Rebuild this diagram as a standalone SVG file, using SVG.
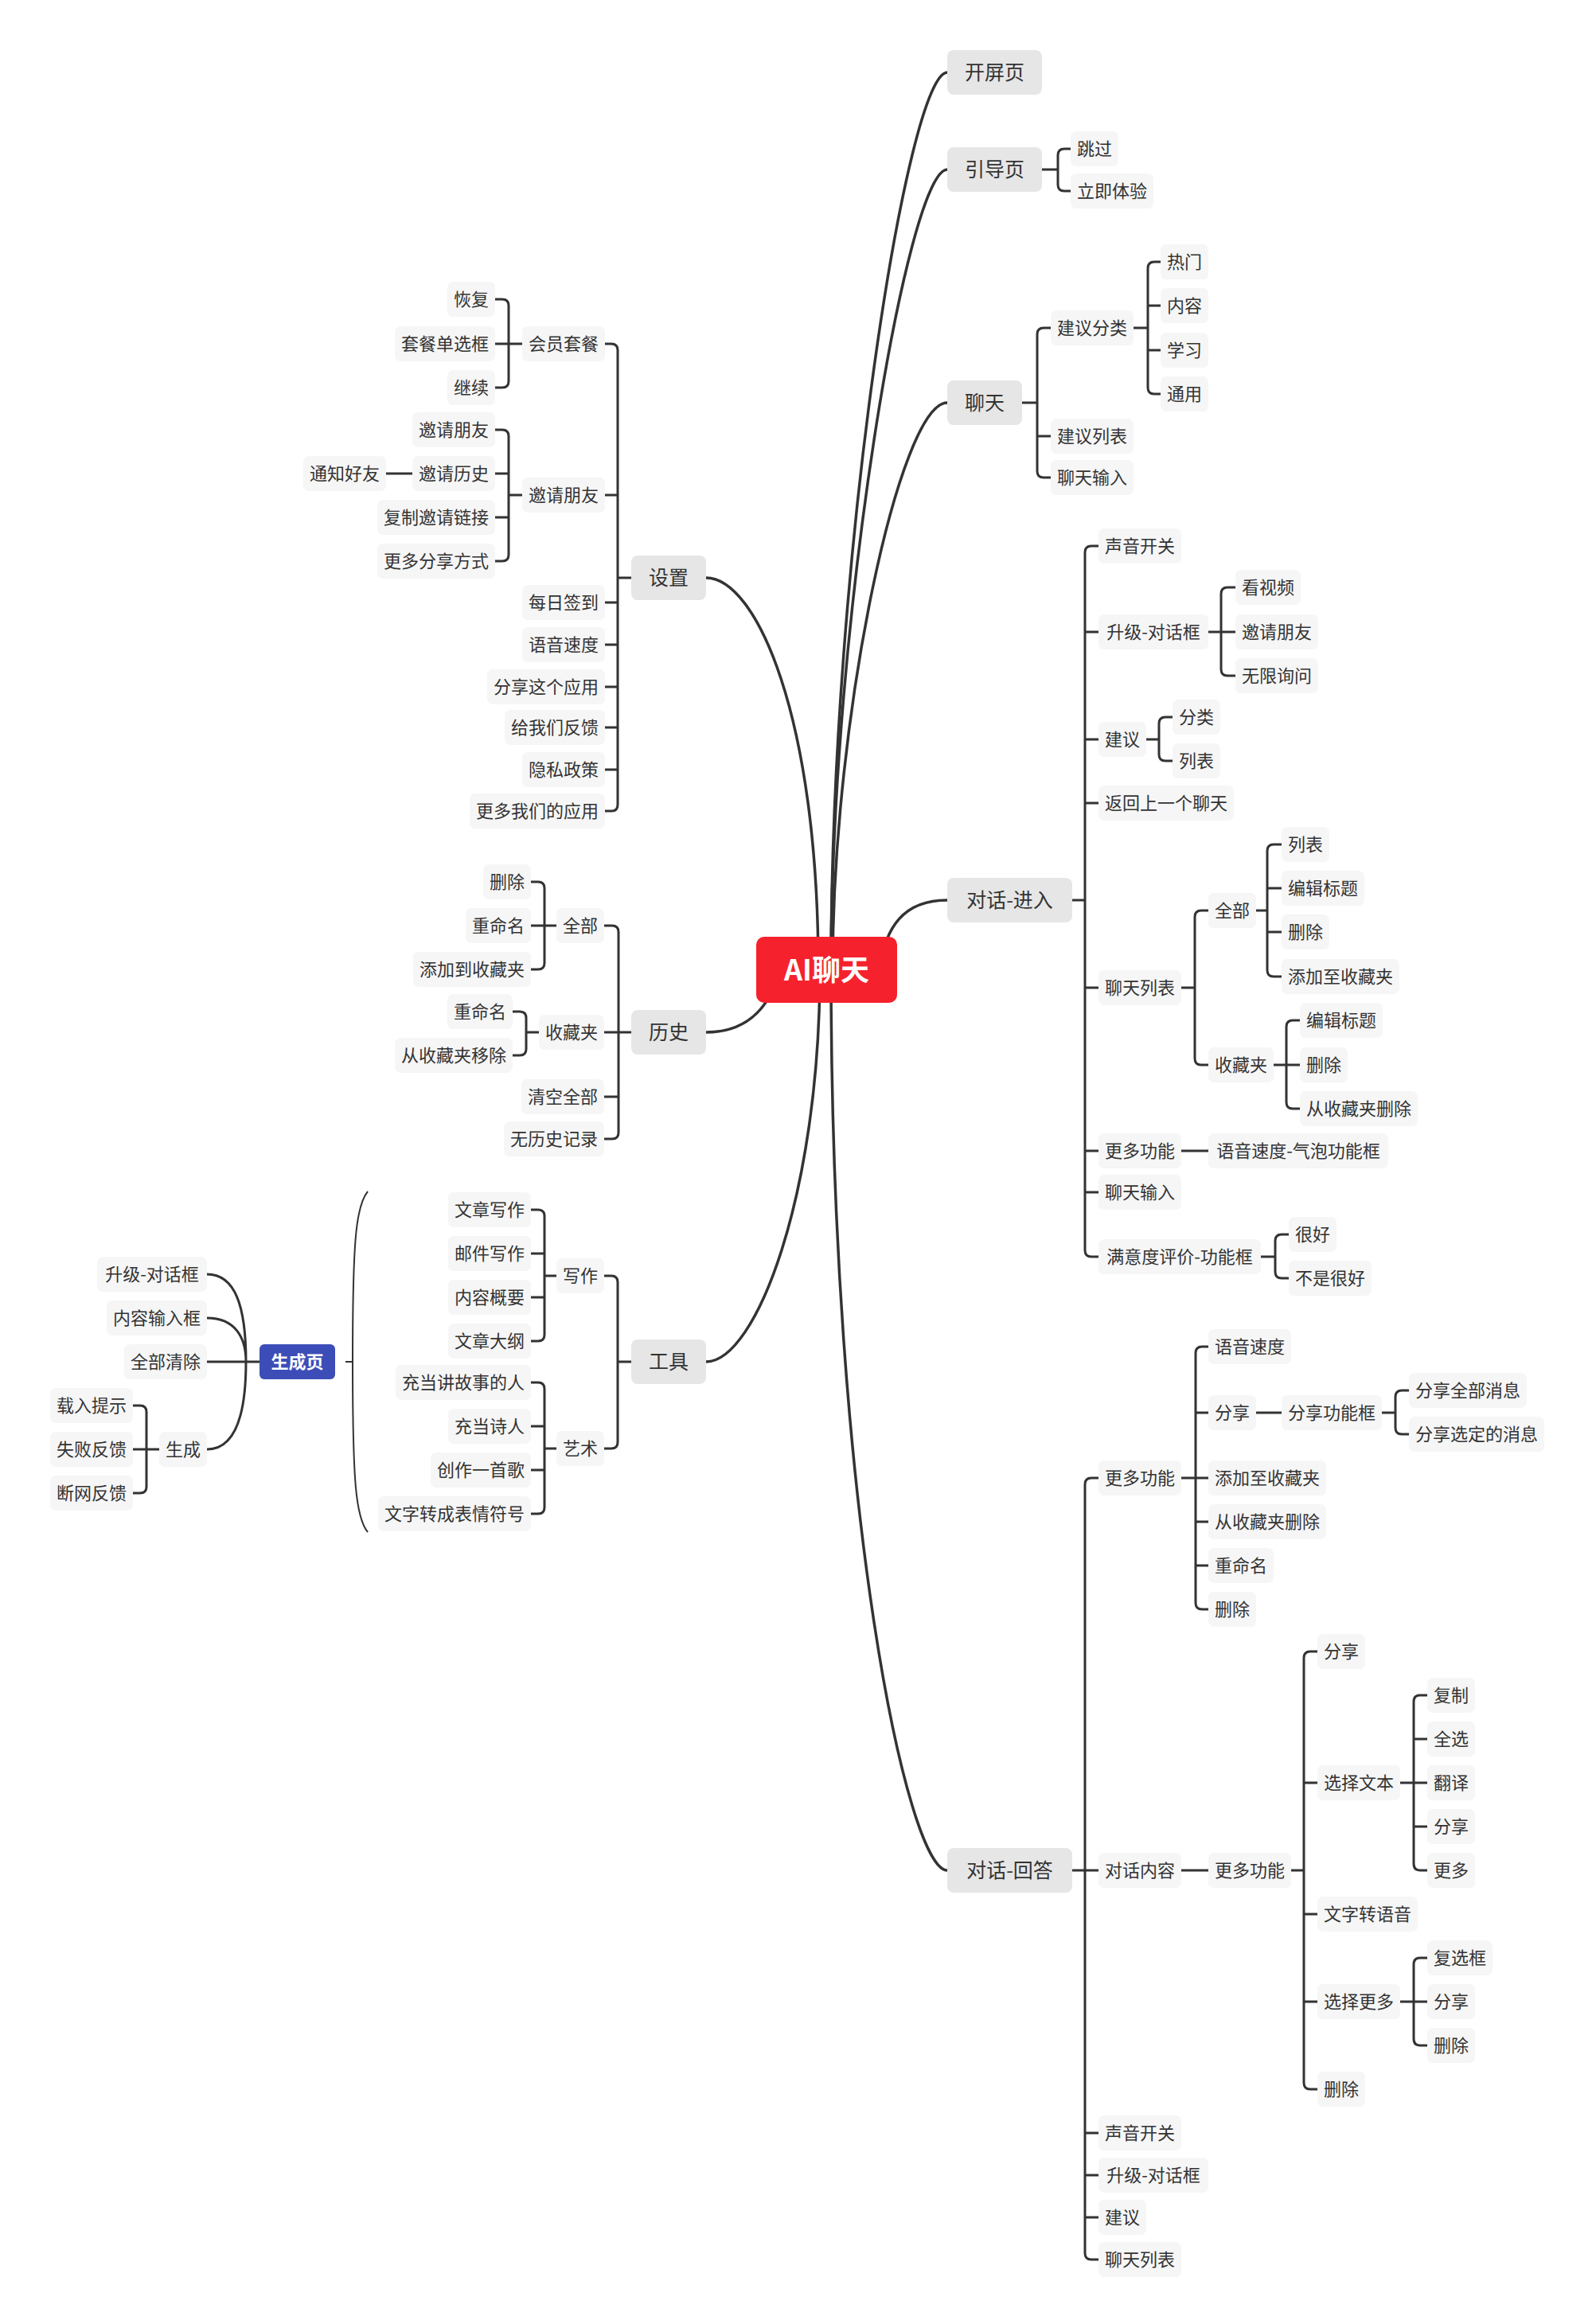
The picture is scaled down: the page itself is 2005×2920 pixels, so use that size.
<svg xmlns="http://www.w3.org/2000/svg" width="2005" height="2920" viewBox="0 0 2005 2920">
<style>
.c{fill:none;stroke:#333;stroke-width:3}
.m{fill:none;stroke:#333;stroke-width:3.5}
.s{fill:none;stroke:#333;stroke-width:2}
.b1{fill:#e6e6e6}
.b2{fill:#f6f6f6}
text{font-family:"Noto Sans CJK SC","Noto Sans",sans-serif;fill:#333;text-anchor:middle}
.t2{font-size:22px}
.t1{font-size:25px}
.w{fill:#fff;font-weight:bold}
</style>
<rect width="2005" height="2920" fill="#fff"/>
<g id="connectors">
<path class="m" d="M1044 1218C1044 700 1140 91 1190 91"/>
<path class="m" d="M1044 1218C1044 780 1140 213 1190 213"/>
<path class="m" d="M1046 1218C1046 900 1130 506 1190 506"/>
<path class="m" d="M1105 1218C1112 1165 1135 1131 1190 1131"/>
<path class="m" d="M1044 1218C1044 1900 1140 2350 1190 2350"/>
<path class="m" d="M1028 1218C1028 900 950 726 887 726"/>
<path class="m" d="M980 1218C965 1275 930 1297 887 1297"/>
<path class="m" d="M1030 1218C1030 1500 950 1711 887 1711"/>
<path class="c" d="M1309 213H1329M1345 187H1337Q1329 187 1329 195V232Q1329 240 1337 240H1345"/>
<path class="c" d="M1284 506H1303M1320 412H1311Q1303 412 1303 420V592Q1303 600 1311 600H1320M1303 548H1320"/>
<path class="c" d="M1424 412H1442M1458 329H1450Q1442 329 1442 337V487Q1442 495 1450 495H1458M1442 384H1458M1442 440H1458"/>
<path class="c" d="M1347 1131H1363M1380 686H1371Q1363 686 1363 694V1571Q1363 1579 1371 1579H1380M1363 794H1380M1363 929H1380M1363 1009H1380M1363 1241H1380M1363 1446H1380M1363 1498H1380"/>
<path class="c" d="M1518 794H1552M1552 738H1542Q1534 738 1534 746V841Q1534 849 1542 849H1552"/>
<path class="c" d="M1440 929H1456M1473 901H1464Q1456 901 1456 909V948Q1456 956 1464 956H1473"/>
<path class="c" d="M1484 1241H1501M1518 1144H1509Q1501 1144 1501 1152V1330Q1501 1338 1509 1338H1518"/>
<path class="c" d="M1578 1144H1592M1610 1061H1600Q1592 1061 1592 1069V1219Q1592 1227 1600 1227H1610M1592 1116H1610M1592 1171H1610"/>
<path class="c" d="M1600 1338H1633M1633 1282H1624Q1616 1282 1616 1290V1385Q1616 1393 1624 1393H1633"/>
<path class="c" d="M1484 1446H1518"/>
<path class="c" d="M1584 1579H1602M1619 1551H1610Q1602 1551 1602 1559V1598Q1602 1606 1610 1606H1619"/>
<path class="c" d="M1347 2350H1380M1380 1857H1371Q1363 1857 1363 1865V2831Q1363 2839 1371 2839H1380M1363 2680H1380M1363 2733H1380M1363 2786H1380"/>
<path class="c" d="M1484 1857H1518M1518 1692H1510Q1502 1692 1502 1700V2014Q1502 2022 1510 2022H1518M1502 1775H1518M1502 1912H1518M1502 1967H1518"/>
<path class="c" d="M1578 1775H1610"/>
<path class="c" d="M1736 1775H1753M1770 1747H1761Q1753 1747 1753 1755V1794Q1753 1802 1761 1802H1770"/>
<path class="c" d="M1484 2350H1518"/>
<path class="c" d="M1622 2350H1638M1655 2075H1646Q1638 2075 1638 2083V2617Q1638 2625 1646 2625H1655M1638 2240H1655M1638 2405H1655M1638 2515H1655"/>
<path class="c" d="M1759 2240H1793M1793 2130H1784Q1776 2130 1776 2138V2342Q1776 2350 1784 2350H1793M1776 2185H1793M1776 2295H1793"/>
<path class="c" d="M1759 2515H1793M1793 2460H1784Q1776 2460 1776 2468V2562Q1776 2570 1784 2570H1793"/>
<path class="c" d="M793 726H776M760 432H768Q776 432 776 440V1011Q776 1019 768 1019H760M776 622H760M776 757H760M776 810H760M776 863H760M776 914H760M776 967H760"/>
<path class="c" d="M656 432H622M622 376H631Q639 376 639 384V479Q639 487 631 487H622"/>
<path class="c" d="M656 622H639M622 540H631Q639 540 639 548V697Q639 705 631 705H622M639 595H622M639 650H622"/>
<path class="c" d="M518 595H485"/>
<path class="c" d="M793 1297H759M759 1163H769Q777 1163 777 1171V1423Q777 1431 769 1431H759M777 1378H759"/>
<path class="c" d="M699 1163H667M667 1108H676Q684 1108 684 1116V1210Q684 1218 676 1218H667"/>
<path class="c" d="M677 1297H661M644 1271H653Q661 1271 661 1279V1318Q661 1326 653 1326H644"/>
<path class="c" d="M793 1711H776M759 1603H768Q776 1603 776 1611V1812Q776 1820 768 1820H759"/>
<path class="c" d="M699 1603H684M667 1520H676Q684 1520 684 1528V1677Q684 1685 676 1685H667M684 1575H667M684 1630H667"/>
<path class="c" d="M699 1820H684M667 1737H676Q684 1737 684 1745V1894Q684 1902 676 1902H667M684 1792H667M684 1847H667"/>
<path class="s" d="M462 1497C447 1515 443 1560 443 1711C443 1862 447 1907 462 1925M443 1711H434"/>
<path class="c" d="M326 1711H260M309 1711C309 1640 295 1601 260 1601M309 1711C309 1680 295 1656 260 1656M309 1711C309 1780 295 1821 260 1821"/>
<path class="c" d="M200 1821H167M167 1766H176Q184 1766 184 1774V1868Q184 1876 176 1876H167"/>
</g>
<g id="root"><rect x="950" y="1177" width="177" height="83" rx="10" fill="#f5222d"/><text class="w" x="1038.5" y="1232" font-size="36">AI聊天</text></g>
<g id="n-kaiping"><rect class="b1" x="1190" y="63" width="119" height="56" rx="8"/><text class="t1" x="1249.5" y="100">开屏页</text></g>
<g id="n-yindao"><rect class="b1" x="1190" y="185" width="119" height="56" rx="8"/><text class="t1" x="1249.5" y="222">引导页</text></g>
<g id="n-liaotian"><rect class="b1" x="1190" y="478" width="94" height="56" rx="8"/><text class="t1" x="1237" y="515">聊天</text></g>
<g id="n-jinru"><rect class="b1" x="1190" y="1103" width="157" height="56" rx="8"/><text class="t1" x="1268.5" y="1140">对话-进入</text></g>
<g id="n-huida"><rect class="b1" x="1190" y="2322" width="157" height="56" rx="8"/><text class="t1" x="1268.5" y="2359">对话-回答</text></g>
<g id="n-shezhi"><rect class="b1" x="793" y="698" width="94" height="56" rx="8"/><text class="t1" x="840" y="735">设置</text></g>
<g id="n-lishi"><rect class="b1" x="793" y="1269" width="94" height="56" rx="8"/><text class="t1" x="840" y="1306">历史</text></g>
<g id="n-gongju"><rect class="b1" x="793" y="1683" width="94" height="56" rx="8"/><text class="t1" x="840" y="1720">工具</text></g>
<g id="n-shengcheng"><rect x="326" y="1689" width="95" height="44" rx="6" fill="#3d4db7"/><text class="t2 w" x="373.5" y="1719">生成页</text></g>
<g id="r1"><rect class="b2" x="1345" y="165" width="60" height="44" rx="7"/><text class="t2" x="1375" y="195">跳过</text></g>
<g id="r2"><rect class="b2" x="1345" y="218" width="104" height="44" rx="7"/><text class="t2" x="1397" y="248">立即体验</text></g>
<g id="r3"><rect class="b2" x="1320" y="390" width="104" height="44" rx="7"/><text class="t2" x="1372" y="420">建议分类</text></g>
<g id="r4"><rect class="b2" x="1458" y="307" width="60" height="44" rx="7"/><text class="t2" x="1488" y="337">热门</text></g>
<g id="r5"><rect class="b2" x="1458" y="362" width="60" height="44" rx="7"/><text class="t2" x="1488" y="392">内容</text></g>
<g id="r6"><rect class="b2" x="1458" y="418" width="60" height="44" rx="7"/><text class="t2" x="1488" y="448">学习</text></g>
<g id="r7"><rect class="b2" x="1458" y="473" width="60" height="44" rx="7"/><text class="t2" x="1488" y="503">通用</text></g>
<g id="r8"><rect class="b2" x="1320" y="526" width="104" height="44" rx="7"/><text class="t2" x="1372" y="556">建议列表</text></g>
<g id="r9"><rect class="b2" x="1320" y="578" width="104" height="44" rx="7"/><text class="t2" x="1372" y="608">聊天输入</text></g>
<g id="r10"><rect class="b2" x="1380" y="664" width="104" height="44" rx="7"/><text class="t2" x="1432" y="694">声音开关</text></g>
<g id="r11"><rect class="b2" x="1380" y="772" width="138" height="44" rx="7"/><text class="t2" x="1449" y="802">升级-对话框</text></g>
<g id="r12"><rect class="b2" x="1552" y="716" width="82" height="44" rx="7"/><text class="t2" x="1593" y="746">看视频</text></g>
<g id="r13"><rect class="b2" x="1552" y="772" width="104" height="44" rx="7"/><text class="t2" x="1604" y="802">邀请朋友</text></g>
<g id="r14"><rect class="b2" x="1552" y="827" width="104" height="44" rx="7"/><text class="t2" x="1604" y="857">无限询问</text></g>
<g id="r15"><rect class="b2" x="1380" y="907" width="60" height="44" rx="7"/><text class="t2" x="1410" y="937">建议</text></g>
<g id="r16"><rect class="b2" x="1473" y="879" width="60" height="44" rx="7"/><text class="t2" x="1503" y="909">分类</text></g>
<g id="r17"><rect class="b2" x="1473" y="934" width="60" height="44" rx="7"/><text class="t2" x="1503" y="964">列表</text></g>
<g id="r18"><rect class="b2" x="1380" y="987" width="170" height="44" rx="7"/><text class="t2" x="1465" y="1017">返回上一个聊天</text></g>
<g id="r19"><rect class="b2" x="1380" y="1219" width="104" height="44" rx="7"/><text class="t2" x="1432" y="1249">聊天列表</text></g>
<g id="r20"><rect class="b2" x="1518" y="1122" width="60" height="44" rx="7"/><text class="t2" x="1548" y="1152">全部</text></g>
<g id="r21"><rect class="b2" x="1610" y="1039" width="60" height="44" rx="7"/><text class="t2" x="1640" y="1069">列表</text></g>
<g id="r22"><rect class="b2" x="1610" y="1094" width="104" height="44" rx="7"/><text class="t2" x="1662" y="1124">编辑标题</text></g>
<g id="r23"><rect class="b2" x="1610" y="1149" width="60" height="44" rx="7"/><text class="t2" x="1640" y="1179">删除</text></g>
<g id="r24"><rect class="b2" x="1610" y="1205" width="148" height="44" rx="7"/><text class="t2" x="1684" y="1235">添加至收藏夹</text></g>
<g id="r25"><rect class="b2" x="1518" y="1316" width="82" height="44" rx="7"/><text class="t2" x="1559" y="1346">收藏夹</text></g>
<g id="r26"><rect class="b2" x="1633" y="1260" width="104" height="44" rx="7"/><text class="t2" x="1685" y="1290">编辑标题</text></g>
<g id="r27"><rect class="b2" x="1633" y="1316" width="60" height="44" rx="7"/><text class="t2" x="1663" y="1346">删除</text></g>
<g id="r28"><rect class="b2" x="1633" y="1371" width="148" height="44" rx="7"/><text class="t2" x="1707" y="1401">从收藏夹删除</text></g>
<g id="r29"><rect class="b2" x="1380" y="1424" width="104" height="44" rx="7"/><text class="t2" x="1432" y="1454">更多功能</text></g>
<g id="r30"><rect class="b2" x="1518" y="1424" width="226" height="44" rx="7"/><text class="t2" x="1631" y="1454">语音速度-气泡功能框</text></g>
<g id="r31"><rect class="b2" x="1380" y="1476" width="104" height="44" rx="7"/><text class="t2" x="1432" y="1506">聊天输入</text></g>
<g id="r32"><rect class="b2" x="1380" y="1557" width="204" height="44" rx="7"/><text class="t2" x="1482" y="1587">满意度评价-功能框</text></g>
<g id="r33"><rect class="b2" x="1619" y="1529" width="60" height="44" rx="7"/><text class="t2" x="1649" y="1559">很好</text></g>
<g id="r34"><rect class="b2" x="1619" y="1584" width="104" height="44" rx="7"/><text class="t2" x="1671" y="1614">不是很好</text></g>
<g id="r35"><rect class="b2" x="1380" y="1835" width="104" height="44" rx="7"/><text class="t2" x="1432" y="1865">更多功能</text></g>
<g id="r36"><rect class="b2" x="1518" y="1670" width="104" height="44" rx="7"/><text class="t2" x="1570" y="1700">语音速度</text></g>
<g id="r37"><rect class="b2" x="1518" y="1753" width="60" height="44" rx="7"/><text class="t2" x="1548" y="1783">分享</text></g>
<g id="r38"><rect class="b2" x="1610" y="1753" width="126" height="44" rx="7"/><text class="t2" x="1673" y="1783">分享功能框</text></g>
<g id="r39"><rect class="b2" x="1770" y="1725" width="148" height="44" rx="7"/><text class="t2" x="1844" y="1755">分享全部消息</text></g>
<g id="r40"><rect class="b2" x="1770" y="1780" width="170" height="44" rx="7"/><text class="t2" x="1855" y="1810">分享选定的消息</text></g>
<g id="r41"><rect class="b2" x="1518" y="1835" width="148" height="44" rx="7"/><text class="t2" x="1592" y="1865">添加至收藏夹</text></g>
<g id="r42"><rect class="b2" x="1518" y="1890" width="148" height="44" rx="7"/><text class="t2" x="1592" y="1920">从收藏夹删除</text></g>
<g id="r43"><rect class="b2" x="1518" y="1945" width="82" height="44" rx="7"/><text class="t2" x="1559" y="1975">重命名</text></g>
<g id="r44"><rect class="b2" x="1518" y="2000" width="60" height="44" rx="7"/><text class="t2" x="1548" y="2030">删除</text></g>
<g id="r45"><rect class="b2" x="1380" y="2328" width="104" height="44" rx="7"/><text class="t2" x="1432" y="2358">对话内容</text></g>
<g id="r46"><rect class="b2" x="1518" y="2328" width="104" height="44" rx="7"/><text class="t2" x="1570" y="2358">更多功能</text></g>
<g id="r47"><rect class="b2" x="1655" y="2053" width="60" height="44" rx="7"/><text class="t2" x="1685" y="2083">分享</text></g>
<g id="r48"><rect class="b2" x="1655" y="2218" width="104" height="44" rx="7"/><text class="t2" x="1707" y="2248">选择文本</text></g>
<g id="r49"><rect class="b2" x="1793" y="2108" width="60" height="44" rx="7"/><text class="t2" x="1823" y="2138">复制</text></g>
<g id="r50"><rect class="b2" x="1793" y="2163" width="60" height="44" rx="7"/><text class="t2" x="1823" y="2193">全选</text></g>
<g id="r51"><rect class="b2" x="1793" y="2218" width="60" height="44" rx="7"/><text class="t2" x="1823" y="2248">翻译</text></g>
<g id="r52"><rect class="b2" x="1793" y="2273" width="60" height="44" rx="7"/><text class="t2" x="1823" y="2303">分享</text></g>
<g id="r53"><rect class="b2" x="1793" y="2328" width="60" height="44" rx="7"/><text class="t2" x="1823" y="2358">更多</text></g>
<g id="r54"><rect class="b2" x="1655" y="2383" width="126" height="44" rx="7"/><text class="t2" x="1718" y="2413">文字转语音</text></g>
<g id="r55"><rect class="b2" x="1655" y="2493" width="104" height="44" rx="7"/><text class="t2" x="1707" y="2523">选择更多</text></g>
<g id="r56"><rect class="b2" x="1793" y="2438" width="82" height="44" rx="7"/><text class="t2" x="1834" y="2468">复选框</text></g>
<g id="r57"><rect class="b2" x="1793" y="2493" width="60" height="44" rx="7"/><text class="t2" x="1823" y="2523">分享</text></g>
<g id="r58"><rect class="b2" x="1793" y="2548" width="60" height="44" rx="7"/><text class="t2" x="1823" y="2578">删除</text></g>
<g id="r59"><rect class="b2" x="1655" y="2603" width="60" height="44" rx="7"/><text class="t2" x="1685" y="2633">删除</text></g>
<g id="r60"><rect class="b2" x="1380" y="2658" width="104" height="44" rx="7"/><text class="t2" x="1432" y="2688">声音开关</text></g>
<g id="r61"><rect class="b2" x="1380" y="2711" width="138" height="44" rx="7"/><text class="t2" x="1449" y="2741">升级-对话框</text></g>
<g id="r62"><rect class="b2" x="1380" y="2764" width="60" height="44" rx="7"/><text class="t2" x="1410" y="2794">建议</text></g>
<g id="r63"><rect class="b2" x="1380" y="2817" width="104" height="44" rx="7"/><text class="t2" x="1432" y="2847">聊天列表</text></g>
<g id="l1"><rect class="b2" x="656" y="410" width="104" height="44" rx="7"/><text class="t2" x="708" y="440">会员套餐</text></g>
<g id="l2"><rect class="b2" x="562" y="354" width="60" height="44" rx="7"/><text class="t2" x="592" y="384">恢复</text></g>
<g id="l3"><rect class="b2" x="496" y="410" width="126" height="44" rx="7"/><text class="t2" x="559" y="440">套餐单选框</text></g>
<g id="l4"><rect class="b2" x="562" y="465" width="60" height="44" rx="7"/><text class="t2" x="592" y="495">继续</text></g>
<g id="l5"><rect class="b2" x="656" y="600" width="104" height="44" rx="7"/><text class="t2" x="708" y="630">邀请朋友</text></g>
<g id="l6"><rect class="b2" x="518" y="518" width="104" height="44" rx="7"/><text class="t2" x="570" y="548">邀请朋友</text></g>
<g id="l7"><rect class="b2" x="518" y="573" width="104" height="44" rx="7"/><text class="t2" x="570" y="603">邀请历史</text></g>
<g id="l8"><rect class="b2" x="381" y="573" width="104" height="44" rx="7"/><text class="t2" x="433" y="603">通知好友</text></g>
<g id="l9"><rect class="b2" x="474" y="628" width="148" height="44" rx="7"/><text class="t2" x="548" y="658">复制邀请链接</text></g>
<g id="l10"><rect class="b2" x="474" y="683" width="148" height="44" rx="7"/><text class="t2" x="548" y="713">更多分享方式</text></g>
<g id="l11"><rect class="b2" x="656" y="735" width="104" height="44" rx="7"/><text class="t2" x="708" y="765">每日签到</text></g>
<g id="l12"><rect class="b2" x="656" y="788" width="104" height="44" rx="7"/><text class="t2" x="708" y="818">语音速度</text></g>
<g id="l13"><rect class="b2" x="612" y="841" width="148" height="44" rx="7"/><text class="t2" x="686" y="871">分享这个应用</text></g>
<g id="l14"><rect class="b2" x="634" y="892" width="126" height="44" rx="7"/><text class="t2" x="697" y="922">给我们反馈</text></g>
<g id="l15"><rect class="b2" x="656" y="945" width="104" height="44" rx="7"/><text class="t2" x="708" y="975">隐私政策</text></g>
<g id="l16"><rect class="b2" x="590" y="997" width="170" height="44" rx="7"/><text class="t2" x="675" y="1027">更多我们的应用</text></g>
<g id="l17"><rect class="b2" x="699" y="1141" width="60" height="44" rx="7"/><text class="t2" x="729" y="1171">全部</text></g>
<g id="l18"><rect class="b2" x="607" y="1086" width="60" height="44" rx="7"/><text class="t2" x="637" y="1116">删除</text></g>
<g id="l19"><rect class="b2" x="585" y="1141" width="82" height="44" rx="7"/><text class="t2" x="626" y="1171">重命名</text></g>
<g id="l20"><rect class="b2" x="519" y="1196" width="148" height="44" rx="7"/><text class="t2" x="593" y="1226">添加到收藏夹</text></g>
<g id="l21"><rect class="b2" x="677" y="1275" width="82" height="44" rx="7"/><text class="t2" x="718" y="1305">收藏夹</text></g>
<g id="l22"><rect class="b2" x="562" y="1249" width="82" height="44" rx="7"/><text class="t2" x="603" y="1279">重命名</text></g>
<g id="l23"><rect class="b2" x="496" y="1304" width="148" height="44" rx="7"/><text class="t2" x="570" y="1334">从收藏夹移除</text></g>
<g id="l24"><rect class="b2" x="655" y="1356" width="104" height="44" rx="7"/><text class="t2" x="707" y="1386">清空全部</text></g>
<g id="l25"><rect class="b2" x="633" y="1409" width="126" height="44" rx="7"/><text class="t2" x="696" y="1439">无历史记录</text></g>
<g id="l26"><rect class="b2" x="699" y="1581" width="60" height="44" rx="7"/><text class="t2" x="729" y="1611">写作</text></g>
<g id="l27"><rect class="b2" x="563" y="1498" width="104" height="44" rx="7"/><text class="t2" x="615" y="1528">文章写作</text></g>
<g id="l28"><rect class="b2" x="563" y="1553" width="104" height="44" rx="7"/><text class="t2" x="615" y="1583">邮件写作</text></g>
<g id="l29"><rect class="b2" x="563" y="1608" width="104" height="44" rx="7"/><text class="t2" x="615" y="1638">内容概要</text></g>
<g id="l30"><rect class="b2" x="563" y="1663" width="104" height="44" rx="7"/><text class="t2" x="615" y="1693">文章大纲</text></g>
<g id="l31"><rect class="b2" x="699" y="1798" width="60" height="44" rx="7"/><text class="t2" x="729" y="1828">艺术</text></g>
<g id="l32"><rect class="b2" x="497" y="1715" width="170" height="44" rx="7"/><text class="t2" x="582" y="1745">充当讲故事的人</text></g>
<g id="l33"><rect class="b2" x="563" y="1770" width="104" height="44" rx="7"/><text class="t2" x="615" y="1800">充当诗人</text></g>
<g id="l34"><rect class="b2" x="541" y="1825" width="126" height="44" rx="7"/><text class="t2" x="604" y="1855">创作一首歌</text></g>
<g id="l35"><rect class="b2" x="475" y="1880" width="192" height="44" rx="7"/><text class="t2" x="571" y="1910">文字转成表情符号</text></g>
<g id="l36"><rect class="b2" x="122" y="1579" width="138" height="44" rx="7"/><text class="t2" x="191" y="1609">升级-对话框</text></g>
<g id="l37"><rect class="b2" x="134" y="1634" width="126" height="44" rx="7"/><text class="t2" x="197" y="1664">内容输入框</text></g>
<g id="l38"><rect class="b2" x="156" y="1689" width="104" height="44" rx="7"/><text class="t2" x="208" y="1719">全部清除</text></g>
<g id="l39"><rect class="b2" x="200" y="1799" width="60" height="44" rx="7"/><text class="t2" x="230" y="1829">生成</text></g>
<g id="l40"><rect class="b2" x="63" y="1744" width="104" height="44" rx="7"/><text class="t2" x="115" y="1774">载入提示</text></g>
<g id="l41"><rect class="b2" x="63" y="1799" width="104" height="44" rx="7"/><text class="t2" x="115" y="1829">失败反馈</text></g>
<g id="l42"><rect class="b2" x="63" y="1854" width="104" height="44" rx="7"/><text class="t2" x="115" y="1884">断网反馈</text></g>
</svg>
